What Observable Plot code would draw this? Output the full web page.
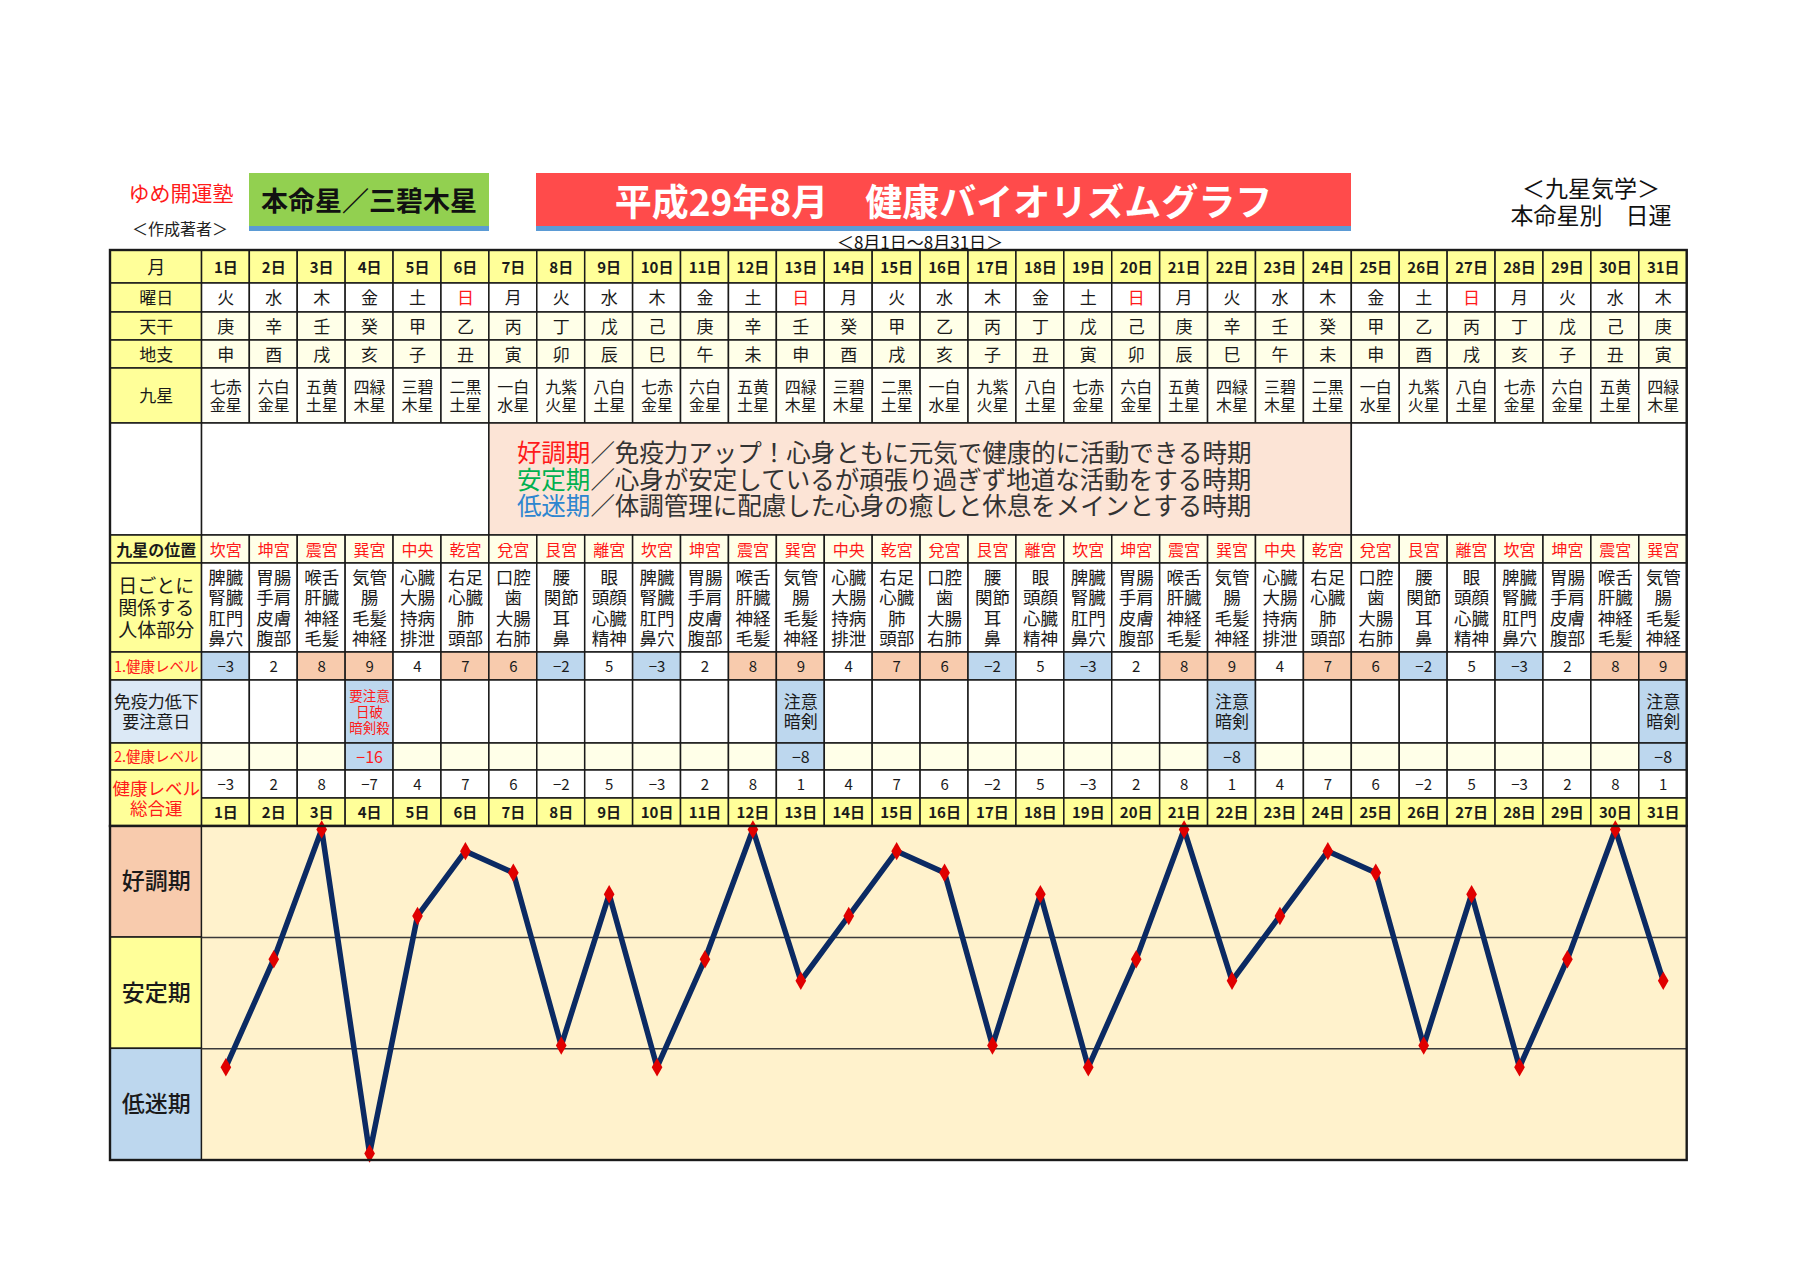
<!DOCTYPE html>
<html><head><meta charset="utf-8">
<script src="https://cdn.jsdelivr.net/npm/d3@7"></script>
<script src="https://cdn.jsdelivr.net/npm/@observablehq/plot@0.6"></script>
<style>
body{margin:0;background:#fff;font-family:"Noto Sans CJK JP",sans-serif;}
#page{position:relative;width:1800px;height:1273px;overflow:hidden;background:#fff;}
.c{position:absolute;transform:translate(-50%,-50%);white-space:nowrap;line-height:1;}
.box{position:absolute;display:flex;align-items:center;justify-content:center;box-sizing:border-box;white-space:nowrap;}
#table,#chart{position:absolute;left:0;}
#desc{position:absolute;font-size:24.5px;line-height:26.7px;color:#333;white-space:nowrap;}
</style></head><body><div id="page">
<div class="c" id="author" style="left:181px;top:192px;font-size:21px;color:#ff1a1a;"></div>
<div class="c" id="authorSub" style="left:180px;top:228px;font-size:16px;color:#222;"></div>
<div class="box" id="honmei" style="left:249px;top:173px;width:240px;height:58px;background:#92d050;border-bottom:5px solid #5b9bd5;font-size:27px;font-weight:bold;color:#111;"></div>
<div class="box" id="title" style="left:536px;top:173px;width:815px;height:58px;background:#ff4b4b;border-bottom:5px solid #5b9bd5;font-size:37px;font-weight:bold;color:#fff;"></div>
<div class="c" id="range" style="left:920px;top:241px;font-size:17px;color:#111;"></div>
<div class="c" id="kigaku" style="left:1591px;top:187px;font-size:23px;color:#111;"></div>
<div class="c" id="nichiun" style="left:1591px;top:214px;font-size:23px;color:#111;"></div>
<div id="table"></div>
<div id="chart"></div>
<div id="desc"></div>
</div>
<script>
// ---------- data ----------
const authorName = "ゆめ開運塾";
const authorCaption = "＜作成著者＞";
const honmeiTitle = "本命星／三碧木星";
const mainTitle = "平成29年8月　健康バイオリズムグラフ";
const periodRange = "＜8月1日～8月31日＞";
const kigakuText = "＜九星気学＞";
const nichiunText = "本命星別　日運";

const dayLabels = ["1日","2日","3日","4日","5日","6日","7日","8日","9日","10日","11日","12日","13日","14日","15日","16日","17日","18日","19日","20日","21日","22日","23日","24日","25日","26日","27日","28日","29日","30日","31日"];
const weekdays = ["火","水","木","金","土","日","月","火","水","木","金","土","日","月","火","水","木","金","土","日","月","火","水","木","金","土","日","月","火","水","木"];
const tenkan = ["庚","辛","壬","癸","甲","乙","丙","丁","戊","己","庚","辛","壬","癸","甲","乙","丙","丁","戊","己","庚","辛","壬","癸","甲","乙","丙","丁","戊","己","庚"];
const chishi = ["申","酉","戌","亥","子","丑","寅","卯","辰","巳","午","未","申","酉","戌","亥","子","丑","寅","卯","辰","巳","午","未","申","酉","戌","亥","子","丑","寅"];
const kyusei = ["七赤\n金星","六白\n金星","五黄\n土星","四緑\n木星","三碧\n木星","二黒\n土星","一白\n水星","九紫\n火星","八白\n土星","七赤\n金星","六白\n金星","五黄\n土星","四緑\n木星","三碧\n木星","二黒\n土星","一白\n水星","九紫\n火星","八白\n土星","七赤\n金星","六白\n金星","五黄\n土星","四緑\n木星","三碧\n木星","二黒\n土星","一白\n水星","九紫\n火星","八白\n土星","七赤\n金星","六白\n金星","五黄\n土星","四緑\n木星"];
const palaces = ["坎宮","坤宮","震宮","巽宮","中央","乾宮","兌宮","艮宮","離宮","坎宮","坤宮","震宮","巽宮","中央","乾宮","兌宮","艮宮","離宮","坎宮","坤宮","震宮","巽宮","中央","乾宮","兌宮","艮宮","離宮","坎宮","坤宮","震宮","巽宮"];
const bodyParts = [
"脾臓\n腎臓\n肛門\n鼻穴","胃腸\n手肩\n皮膚\n腹部","喉舌\n肝臓\n神経\n毛髪","気管\n腸\n毛髪\n神経","心臓\n大腸\n持病\n排泄","右足\n心臓\n肺\n頭部","口腔\n歯\n大腸\n右肺","腰\n関節\n耳\n鼻","眼\n頭顔\n心臓\n精神",
"脾臓\n腎臓\n肛門\n鼻穴","胃腸\n手肩\n皮膚\n腹部","喉舌\n肝臓\n神経\n毛髪","気管\n腸\n毛髪\n神経","心臓\n大腸\n持病\n排泄","右足\n心臓\n肺\n頭部","口腔\n歯\n大腸\n右肺","腰\n関節\n耳\n鼻","眼\n頭顔\n心臓\n精神",
"脾臓\n腎臓\n肛門\n鼻穴","胃腸\n手肩\n皮膚\n腹部","喉舌\n肝臓\n神経\n毛髪","気管\n腸\n毛髪\n神経","心臓\n大腸\n持病\n排泄","右足\n心臓\n肺\n頭部","口腔\n歯\n大腸\n右肺","腰\n関節\n耳\n鼻","眼\n頭顔\n心臓\n精神",
"脾臓\n腎臓\n肛門\n鼻穴","胃腸\n手肩\n皮膚\n腹部","喉舌\n肝臓\n神経\n毛髪","気管\n腸\n毛髪\n神経"];
const level1 = [-3,2,8,9,4,7,6,-2,5,-3,2,8,9,4,7,6,-2,5,-3,2,8,9,4,7,6,-2,5,-3,2,8,9];
const cautionDays = [4,13,22,31];
const cautionNotes = ["要注意\n日破\n暗剣殺","注意\n暗剣","注意\n暗剣","注意\n暗剣"];
const level2 = [-16,-8,-8,-8];
const totals = [-3,2,8,-7,4,7,6,-2,5,-3,2,8,1,4,7,6,-2,5,-3,2,8,1,4,7,6,-2,5,-3,2,8,1];
const periodNames = ["好調期","安定期","低迷期"];
const periodDesc = ["／免疫力アップ！心身ともに元気で健康的に活動できる時期","／心身が安定しているが頑張り過ぎず地道な活動をする時期","／体調管理に配慮した心身の癒しと休息をメインとする時期"];
const rowLabels = ["月","曜日","天干","地支","九星","","九星の位置","日ごとに\n関係する\n人体部分","1.健康レベル","免疫力低下\n要注意日","2.健康レベル","健康レベル\n総合運"];
const bandEdges = [8.14, 3, -2.15, -7.32];

// ---------- layout & style ----------
const L = {tableLeft:110, labelRight:201.4, tableRight:1686.7, tableTop:250, chartTop:826, chartHeight:334,
  rowEdges:[0,33,62,90,118,173,285,313,402,430,493,520,548,576], pinkFrom:6, pinkTo:24, descDx:28};
const C = {yellow:"#ffff99", ivory:"#ffffe8", ivory2:"#fffff6", white:"#ffffff", pink:"#fce4d6", salmon:"#f8cbad",
  blue:"#bdd7ee", lblue:"#dce9f6", cream:"#fff2cc", grid:"#1a1a1a", red:"#ff1a1a", text:"#1a1a1a",
  navy:"#0b2a63", marker:"#e00000", good:"#ff1a1a", stable:"#00b050", low:"#2e86d0", desc:"#333333"};
const FONT = "Noto Sans CJK JP";

document.getElementById("author").textContent = authorName;
document.getElementById("authorSub").textContent = authorCaption;
document.getElementById("honmei").textContent = honmeiTitle;
document.getElementById("title").textContent = mainTitle;
document.getElementById("range").textContent = periodRange;
document.getElementById("kigaku").textContent = kigakuText;
document.getElementById("nichiun").textContent = nichiunText;

const colW = (L.tableRight - L.labelRight) / 31;
const labelX1 = (L.tableLeft - L.labelRight) / colW;
const xScale = {type:"linear", domain:[0,31], range:[L.labelRight, L.tableRight]};
const E = L.rowEdges;
const H = E[E.length-1];
const idx = d3.range(dayLabels.length);
const fmt = v => v < 0 ? "−" + Math.abs(v) : String(v);
const cautionIndex = new Map(cautionDays.map((d,k) => [d-1, k]));
const mid = r => (E[r] + E[r+1]) / 2;

// cells
const cells = [];
const addRow = (r, fillFn) => idx.forEach(i => cells.push({x1:i, x2:i+1, y1:E[r], y2:E[r+1], fill:fillFn(i)}));
addRow(0, () => C.yellow);
addRow(1, () => C.white);
addRow(2, () => C.ivory);
addRow(3, () => C.ivory);
addRow(4, () => C.ivory2);
cells.push({x1:0, x2:L.pinkFrom, y1:E[5], y2:E[6], fill:C.white});
cells.push({x1:L.pinkFrom, x2:L.pinkTo, y1:E[5], y2:E[6], fill:C.pink});
cells.push({x1:L.pinkTo, x2:31, y1:E[5], y2:E[6], fill:C.white});
addRow(6, () => C.ivory);
addRow(7, () => C.white);
addRow(8, i => level1[i] >= 6 ? C.salmon : level1[i] < 0 ? C.blue : C.white);
addRow(9, i => cautionIndex.has(i) ? C.blue : C.white);
addRow(10, i => cautionIndex.has(i) ? C.blue : C.ivory);
addRow(11, () => C.white);
addRow(12, () => C.yellow);
rowLabels.forEach((lab, r) => {
  const y2 = r === 11 ? E[13] : E[r+1];
  const fill = r === 5 ? C.white : r === 9 ? C.lblue : C.yellow;
  cells.push({x1:labelX1, x2:0, y1:E[r], y2, fill});
});

// texts
const tNormal = [], tBold = [];
idx.forEach(i => {
  const x = i + 0.5;
  tBold.push({x, y:mid(0), t:dayLabels[i], fill:C.text, fs:15});
  tNormal.push({x, y:mid(1), t:weekdays[i], fill: weekdays[i] === "日" ? C.red : C.text, fs:17});
  tNormal.push({x, y:mid(2), t:tenkan[i], fill:C.text, fs:17});
  tNormal.push({x, y:mid(3), t:chishi[i], fill:C.text, fs:17});
  tNormal.push({x, y:mid(4), t:kyusei[i], fill:C.text, fs:16});
  tNormal.push({x, y:mid(6), t:palaces[i], fill:C.red, fs:16});
  tNormal.push({x, y:mid(7), t:bodyParts[i], fill:C.text, fs:17.5});
  tNormal.push({x, y:mid(8), t:fmt(level1[i]), fill:C.text, fs:15});
  if (cautionIndex.has(i)) {
    const k = cautionIndex.get(i);
    const red = level2[k] <= -16;
    tNormal.push({x, y:mid(9), t:cautionNotes[k], fill: red ? C.red : C.text, fs: red ? 13.5 : 17});
    tNormal.push({x, y:mid(10), t:fmt(level2[k]), fill: red ? C.red : C.text, fs:16});
  }
  tNormal.push({x, y:mid(11), t:fmt(totals[i]), fill:C.text, fs:15});
  tBold.push({x, y:mid(12), t:dayLabels[i], fill:C.text, fs:15});
});
const labelX = labelX1 / 2;
const labelStyle = [
  {fill:C.text, fs:18},{fill:C.text, fs:17},{fill:C.text, fs:17},{fill:C.text, fs:17},{fill:C.text, fs:17},{fill:C.text, fs:17},
  {fill:C.text, fs:16, b:true},{fill:C.text, fs:19},{fill:C.red, fs:14.5},{fill:C.text, fs:17},{fill:C.red, fs:14.5},{fill:C.red, fs:17.5}
];
rowLabels.forEach((lab, r) => {
  if (!lab) return;
  const y = r === 11 ? E[12] : mid(r);
  const s = labelStyle[r];
  (s.b ? tBold : tNormal).push({x:labelX, y, t:lab, fill:s.fill, fs:s.fs});
});

const tableSvg = Plot.plot({
  width:1800, height:H + 2, marginTop:0, marginBottom:0, marginLeft:0, marginRight:0,
  x:{...xScale, axis:null},
  y:{type:"linear", domain:[0,H], range:[1,H+1], axis:null},
  color:{type:"identity"},
  style:{fontFamily:FONT, overflow:"visible", background:"transparent"},
  marks:[
    Plot.rect(cells, {x1:"x1", x2:"x2", y1:"y1", y2:"y2", fill:"fill", stroke:C.grid, strokeWidth:1.5}),
    Plot.rect([{x1:labelX1, x2:31, y1:0, y2:H}], {x1:"x1", x2:"x2", y1:"y1", y2:"y2", fill:"none", stroke:C.grid, strokeWidth:2.4}),
    Plot.text(tNormal, {x:"x", y:"y", text:"t", fill:"fill", fontSize:"fs", lineHeight:1.17}),
    Plot.text(tBold, {x:"x", y:"y", text:"t", fill:"fill", fontSize:"fs", fontWeight:"bold", lineHeight:1.17})
  ]
});
const tdiv = document.getElementById("table");
tdiv.style.top = (L.tableTop - 1) + "px";
tdiv.append(tableSvg);

// period description lines inside the pink merged cell (HTML, placed with the same x scale)
const descColors = [C.good, C.stable, C.low];
const desc = document.getElementById("desc");
const xs = d3.scaleLinear(xScale.domain, xScale.range);
desc.style.left = (xs(L.pinkFrom) + L.descDx) + "px";
desc.style.top = (L.tableTop + mid(5) - 1.5 * 26.7) + "px";
periodNames.forEach((p, k) => {
  const line = document.createElement("div");
  const s = document.createElement("span");
  s.style.color = descColors[k];
  s.textContent = p;
  line.append(s, document.createTextNode(periodDesc[k]));
  desc.append(line);
});

// ---------- chart ----------
const bands = periodNames.map((p,k) => ({p, y1:bandEdges[k+1], y2:bandEdges[k], fill:[C.salmon, C.yellow, C.blue][k]}));
const pts = totals.map((v,i) => ({x:i+0.5, v}));
const chartSvg = Plot.plot({
  width:1800, height:L.chartHeight, marginTop:0, marginBottom:0, marginLeft:0, marginRight:0,
  x:{...xScale, axis:null},
  y:{type:"linear", domain:[bandEdges[3], bandEdges[0]], range:[L.chartHeight, 0], axis:null},
  color:{type:"identity"},
  style:{fontFamily:FONT, overflow:"visible", background:"transparent"},
  marks:[
    Plot.rect([{}], {x1:0, x2:31, y1:bandEdges[3], y2:bandEdges[0], fill:C.cream}),
    Plot.rect(bands, {x1:labelX1, x2:0, y1:"y1", y2:"y2", fill:"fill", stroke:C.grid, strokeWidth:1.5}),
    Plot.ruleY(bandEdges.slice(1,3), {x1:0, x2:31, stroke:"#3a3a3a", strokeWidth:1.5}),
    Plot.text(bands, {x:labelX1/2, y:d => (d.y1+d.y2)/2, text:"p", fontSize:23, fill:C.text, fontWeight:500}),
    Plot.line(pts, {x:"x", y:"v", stroke:C.navy, strokeWidth:5.5, strokeLinejoin:"miter", strokeMiterlimit:2}),
    Plot.dot(pts, {x:"x", y:"v", symbol:"diamond", r:5.6, fill:C.marker, stroke:"none"}),
    Plot.rect([{}], {x1:labelX1, x2:31, y1:bandEdges[3], y2:bandEdges[0], fill:"none", stroke:C.grid, strokeWidth:2.4})
  ]
});
const cdiv = document.getElementById("chart");
cdiv.style.top = L.chartTop + "px";
cdiv.append(chartSvg);
</script>
</body></html>
